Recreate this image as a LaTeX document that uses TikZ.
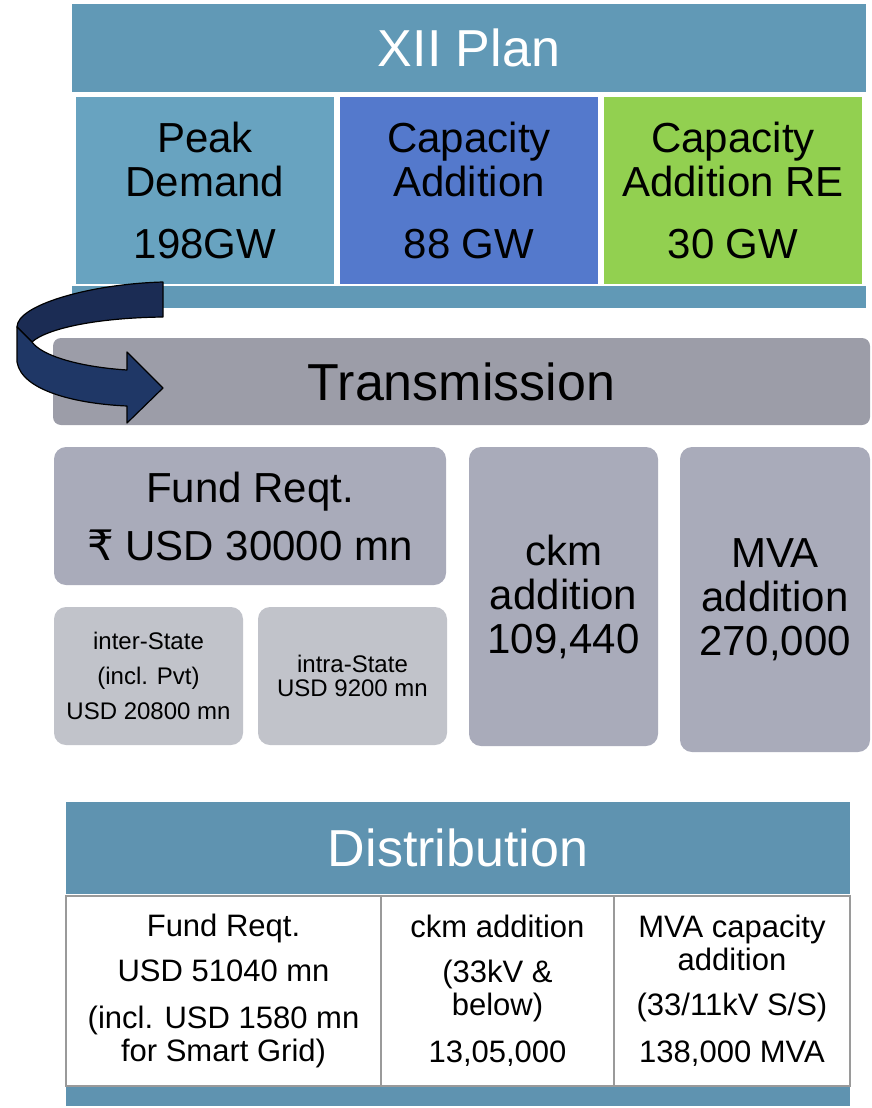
\documentclass[tikz,border=0pt]{standalone}
\usepackage{fontspec}
\setmainfont{Liberation Sans}
\newfontfamily\rupeefont{DejaVu Sans}
\usepackage{tikz}
\usetikzlibrary{positioning}
\definecolor{planteal}{HTML}{6199B6}
\definecolor{peakblue}{HTML}{68A3C0}
\definecolor{capblue}{HTML}{5479CC}
\definecolor{regreen}{HTML}{92D050}
\definecolor{transgray}{HTML}{9C9DA8}
\definecolor{fundgray}{HTML}{A9ABBA}
\definecolor{splitgray}{HTML}{C1C3CA}
\definecolor{distteal}{HTML}{5F93B0}
\definecolor{cellline}{HTML}{9A9A9A}
\definecolor{arrowback}{HTML}{1B2C54}
\definecolor{arrowfront}{HTML}{1F3766}

\begin{document}
\begin{tikzpicture}[x=1pt,y=-1pt,inner sep=0pt,outer sep=0pt,
  head/.style={text=white,font=\fontsize{52}{56}\selectfont},
  plancell/.style={minimum width=258pt,minimum height=187pt,align=center,font=\fontsize{42}{44}\selectfont},
  graybox/.style={fill=fundgray,rounded corners=12pt,align=center,font=\fontsize{42}{44}\selectfont},
  splitbox/.style={fill=splitgray,rounded corners=12pt,minimum width=189pt,minimum height=138pt,align=center,font=\fontsize{24}{24}\selectfont},
  distcell/.style={fill=white,draw=cellline,line width=1.5pt,minimum height=190pt,align=center,font=\fontsize{31}{33}\selectfont}]
\useasboundingbox (0,0) rectangle (872,1108);

\node[head,fill=planteal,minimum width=794pt,minimum height=88pt] (plan) at (469,48) {XII Plan};
\node[plancell,fill=peakblue] (peak) at (205,190.5) {Peak\\Demand\\[18pt]198GW};
\node[plancell,fill=capblue] (cap) [right=6pt of peak] {Capacity\\Addition\\[18pt]88 GW};
\node[plancell,fill=regreen] (re) [right=6pt of cap] {Capacity\\Addition RE\\[18pt]30 GW};
\node[fill=planteal,minimum width=794pt,minimum height=22pt] (planfoot) at (469,297) {};

\node[fill=transgray,rounded corners=8pt,minimum width=817pt,minimum height=87pt,font=\fontsize{52}{56}\selectfont] (trans) at (461.5,381.5) {Transmission};

\node[graybox,minimum width=392pt,minimum height=138pt] (fund) at (250,516) {Fund Reqt.\\[14pt]{\rupeefont ₹} USD 30000 mn};
\node[splitbox] (inter) at (148.5,676) {inter-State\\[11pt](incl. Pvt)\\[11pt]USD 20800 mn};
\node[splitbox] (intra) [right=15pt of inter] {intra-State\\USD 9200 mn};
\node[graybox,minimum width=189pt,minimum height=299pt] (ckm) at (563.5,596.5) {ckm\\addition\\109,440};
\node[graybox,minimum width=190pt,minimum height=305pt] (mva) at (775,599.5) {MVA\\addition\\270,000};

\node[head,fill=distteal,minimum width=784pt,minimum height=92pt] (dist) at (458,848) {Distribution};
\node[fill=distteal,minimum width=784pt,minimum height=22pt] (distfoot) at (458,1095) {};
\node[distcell,minimum width=315pt] (dfund) at (223.5,991) {Fund Reqt.\\[12pt]USD 51040 mn\\[14pt](incl. USD 1580 mn\\for Smart Grid)};
\node[distcell,minimum width=233pt] (dckm) [right=0pt of dfund] {ckm addition\\[12pt](33kV \&\\below)\\[14pt]13,05,000};
\node[distcell,minimum width=236pt] (dmva) [right=0pt of dckm] {MVA capacity\\addition\\[12pt](33/11kV S/S)\\[14pt]138,000 MVA};

\filldraw[fill=arrowback,line width=1.2pt,line join=round] (163,282) .. controls (90,284) and (17,305) .. (17,327) -- (32,342) .. controls (45,330) and (90,318) .. (163,317) -- cycle;
\filldraw[fill=arrowfront,line width=1.2pt,line join=round] (17,327) -- (17,362) .. controls (22,392) and (80,404) .. (127,406) -- (127,423) -- (163,388) -- (127,352) -- (127,370) .. controls (80,367) and (42,356) .. (32,342) -- cycle;
\end{tikzpicture}
\end{document}
